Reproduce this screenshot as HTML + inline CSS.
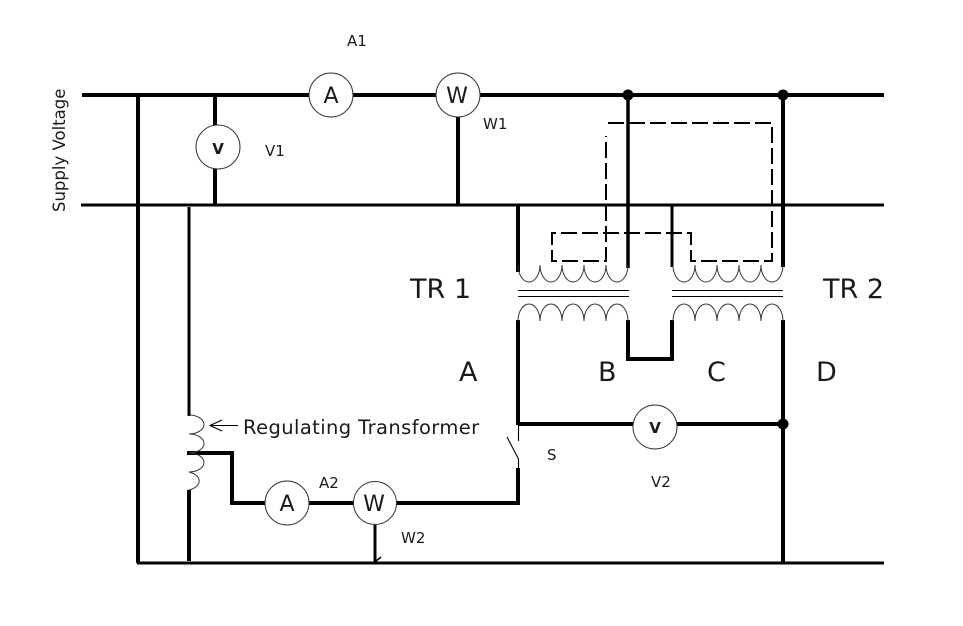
<!DOCTYPE html>
<html>
<head>
<meta charset="utf-8">
<style>
html,body{margin:0;padding:0;background:#fff;}
svg{display:block;}
text{font-family:"DejaVu Sans","Liberation Sans",sans-serif;fill:#1a1a1a;}
</style>
</head>
<body>
<svg width="963" height="626" viewBox="0 0 963 626" xmlns="http://www.w3.org/2000/svg">
<rect width="963" height="626" fill="#fff"/>
<g fill="none" stroke="#000" stroke-width="4">
  <path d="M82 95H884" stroke-width="4"/>
  <path d="M81 205H884" stroke-width="3"/>
  <path d="M137 563H884" stroke-width="3"/>
  <path d="M138 95V563"/>
  <path d="M215 95V130M215 165V205"/>
  <path d="M458 95V205"/>
  <path d="M518 205V272"/>
  <path d="M628 95V268" stroke-width="3.5"/>
  <path d="M672 205V267" stroke-width="3"/>
  <path d="M783 95V267"/>
  <path d="M518 320V425"/>
  <path d="M628 320V359H672V320"/>
  <path d="M783 320V563"/>
  <path d="M518 424H783"/>
  <path d="M189 207V416" stroke-width="3"/>
  <path d="M189 490V561"/>
  <path d="M187 453H232V503H518V468"/>
  <path d="M375 523V563" stroke-width="3"/>
  <path d="M375 562L381 557" stroke-width="1.5"/>
</g>
<!-- thin coils -->
<g fill="none" stroke="#333" stroke-width="1">
  <path d="M518 265A11 17 0 0 0 540 265A11 17 0 0 0 562 265A11 17 0 0 0 584 265A11 17 0 0 0 606 265A11 17 0 0 0 628 265"/>
  <path d="M673 265A11 17 0 0 0 695 265A11 17 0 0 0 717 265A11 17 0 0 0 739 265A11 17 0 0 0 761 265A11 17 0 0 0 783 265"/>
  <path d="M518 321A11 17 0 0 1 540 321A11 17 0 0 1 562 321A11 17 0 0 1 584 321A11 17 0 0 1 606 321A11 17 0 0 1 628 321"/>
  <path d="M673 321A11 17 0 0 1 695 321A11 17 0 0 1 717 321A11 17 0 0 1 739 321A11 17 0 0 1 761 321A11 17 0 0 1 783 321"/>
  <path d="M189 415A15 9.5 0 0 1 189 434A15 9.5 0 0 1 189 453A15 9.5 0 0 1 189 472A15 9.5 0 0 1 189 490"/>
</g>
<g stroke="#000" stroke-width="1.1" fill="none">
  <path d="M518 290.5H629M518 296.5H629M672 290.5H783M672 296.5H783"/>
  <path d="M518.5 425V441M507 437L518.5 459V468"/>
  <path d="M238 425.5H210M222 420L210 425.5L222 431"/>
</g>
<!-- dashed -->
<path d="M608 123H772V261H691V233H552V261H606V136" fill="none" stroke="#000" stroke-width="2" stroke-dasharray="16 5"/>
<!-- dots -->
<circle cx="628" cy="95" r="5.5" fill="#000"/>
<circle cx="783" cy="95" r="5.5" fill="#000"/>
<circle cx="783" cy="424" r="5.5" fill="#000"/>
<!-- instruments -->
<g fill="#fff" stroke="#333" stroke-width="1">
  <circle cx="331" cy="95" r="22"/>
  <circle cx="458" cy="95" r="22"/>
  <circle cx="218" cy="147" r="22"/>
  <circle cx="655" cy="427" r="22"/>
  <circle cx="287" cy="503" r="22"/>
  <circle cx="375" cy="503" r="21.5"/>
</g>
<g text-anchor="middle">
  <text x="331" y="103" font-size="22">A</text>
  <text x="457" y="103" font-size="22">W</text>
  <text x="218" y="154" font-size="15" font-weight="bold">V</text>
  <text x="655" y="433" font-size="15" font-weight="bold">V</text>
  <text x="287" y="511" font-size="22">A</text>
  <text x="374" y="511" font-size="22">W</text>
</g>
<g font-size="15">
  <text x="347" y="46">A1</text>
  <text x="483" y="129">W1</text>
  <text x="265" y="156">V1</text>
  <text x="319" y="488">A2</text>
  <text x="401" y="543">W2</text>
  <text x="547" y="460">S</text>
  <text x="651" y="487">V2</text>
</g>
<text x="243" y="434" font-size="19.5" letter-spacing=".4">Regulating Transformer</text>
<text x="410" y="298" font-size="27">TR 1</text>
<text x="823" y="298" font-size="27">TR 2</text>
<g font-size="27">
  <text x="459" y="381">A</text>
  <text x="598" y="381">B</text>
  <text x="707" y="381">C</text>
  <text x="816" y="381">D</text>
</g>
<text transform="translate(65,212) rotate(-90)" font-size="16.5">Supply Voltage</text>
</svg>
</body>
</html>
